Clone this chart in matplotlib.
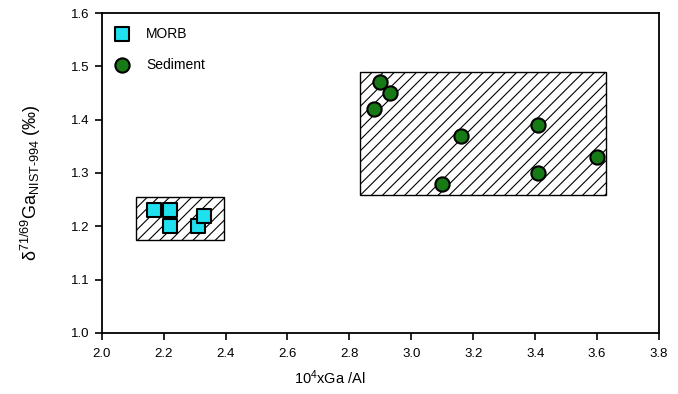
import matplotlib
matplotlib.use("Agg")
import matplotlib.pyplot as plt
from matplotlib.patches import Rectangle

plt.rcParams['font.family'] = ['Liberation Sans', 'DejaVu Sans']
plt.rcParams['mathtext.fontset'] = 'custom'
plt.rcParams['mathtext.rm'] = 'Liberation Sans'
plt.rcParams['mathtext.it'] = 'Liberation Sans:italic'
plt.rcParams['hatch.linewidth'] = 0.8

# data
morb_x = [2.17, 2.22, 2.22, 2.31, 2.33]
morb_y = [1.23, 1.23, 1.20, 1.20, 1.22]
sed_x = [2.88, 2.90, 2.93, 3.10, 3.16, 3.41, 3.41, 3.60]
sed_y = [1.42, 1.47, 1.45, 1.28, 1.37, 1.39, 1.30, 1.33]

# hatched field boxes: (x0, y0, x1, y1)
morb_box = (2.11, 1.175, 2.395, 1.255)
sed_box = (2.835, 1.258, 3.63, 1.49)

x_ticks = [2.0, 2.2, 2.4, 2.6, 2.8, 3.0, 3.2, 3.4, 3.6, 3.8]
y_ticks = [1.0, 1.1, 1.2, 1.3, 1.4, 1.5, 1.6]

fig = plt.figure(figsize=(6.78, 3.94), dpi=100)
ax = fig.add_axes([0.150, 0.155, 0.822, 0.812])

for bx in (morb_box, sed_box):
    ax.add_patch(Rectangle((bx[0], bx[1]), bx[2] - bx[0], bx[3] - bx[1],
                           facecolor='white', edgecolor='black', hatch='///',
                           linewidth=1.0, zorder=1))

ax.scatter(morb_x, morb_y, marker='s', s=95, c='#1ee0ee', edgecolors='black',
           linewidths=1.5, zorder=3, label='MORB')
ax.scatter(sed_x, sed_y, marker='o', s=105, c='#177a17', edgecolors='black',
           linewidths=1.5, zorder=3, label='Sediment')

ax.set_xlim(2.0, 3.8)
ax.set_ylim(1.0, 1.6)
ax.set_xticks(x_ticks)
ax.set_yticks(y_ticks)
ax.set_xticklabels(['%.1f' % v for v in x_ticks])
ax.set_yticklabels(['%.1f' % v for v in y_ticks])
ax.tick_params(direction='out', length=5, width=1.2, labelsize=9.5, colors='black')
ax.tick_params(axis='x', pad=6)
for sp in ax.spines.values():
    sp.set_linewidth(1.3)

ax.set_xlabel(r'10$^4$xGa /Al', fontsize=10.5)
ax.xaxis.set_label_coords(0.41, -0.11)
ax.set_ylabel(r'δ$^{71/69}$Ga$_{\mathrm{NIST}\text{-}\mathrm{994}}$ (‰)',
              fontsize=13)
ax.yaxis.set_label_coords(-0.105, 0.47)

ax.legend(loc='upper left', bbox_to_anchor=(-0.013, 1.0), frameon=False,
          fontsize=10, handletextpad=0.7, labelspacing=1.2, borderaxespad=0.6,
          scatterpoints=1)

fig.savefig('out.png', dpi=100)
